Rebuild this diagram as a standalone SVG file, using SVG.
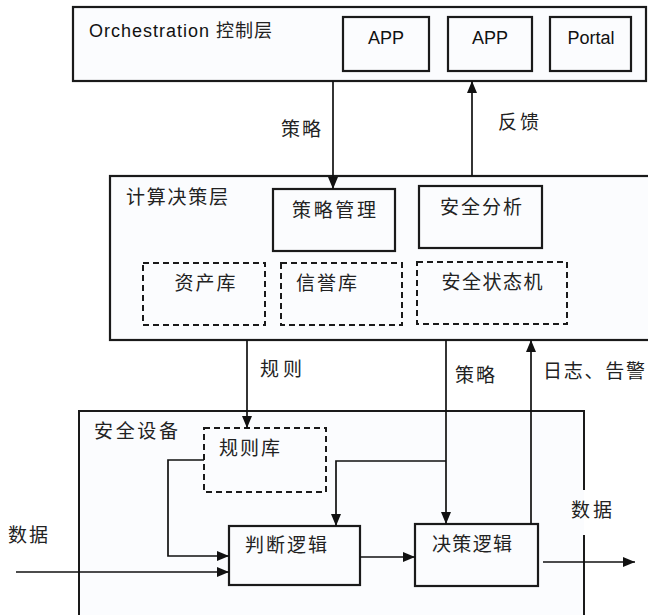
<svg xmlns="http://www.w3.org/2000/svg" width="648" height="615" viewBox="0 0 648 615">
<style>
  .box{fill:#fbfcfe;stroke:#1a1a1a;stroke-width:2.2}
  .dash{fill:#fbfcfe;stroke:#1a1a1a;stroke-width:2;stroke-dasharray:6,4}
  .cn{fill:none;stroke:#111;stroke-width:1.7}
  .t{font-family:"Noto Sans CJK SC","Noto Sans",sans-serif;font-size:19px;fill:#222}
  .l{font-family:"Liberation Sans","Noto Sans CJK SC",sans-serif;font-size:18px;fill:#111}
  .m{text-anchor:middle}
</style>
<defs>
  <marker id="ah" markerUnits="userSpaceOnUse" markerWidth="12" markerHeight="10" refX="12" refY="5" orient="auto">
    <path d="M0,0 L12,5 L0,10 z" fill="#111"/>
  </marker>
</defs>
<rect width="648" height="615" fill="#ffffff"/>

<g id="orchestration">
  <rect class="box" x="73" y="7" width="573" height="74"/>
  <text class="l" x="89" y="37" textLength="183">Orchestration <tspan class="t" style="font-size:18px">控制层</tspan></text>
</g>
<g id="app1">
  <rect class="box" x="343" y="17" width="86" height="54"/>
  <text class="l m" x="386" y="44">APP</text>
</g>
<g id="app2">
  <rect class="box" x="448" y="17" width="84" height="54"/>
  <text class="l m" x="490" y="44">APP</text>
</g>
<g id="portal">
  <rect class="box" x="550" y="17" width="81" height="54"/>
  <text class="l m" x="591" y="44">Portal</text>
</g>

<g id="compute-layer">
  <rect class="box" x="110" y="176" width="540" height="164"/>
  <text class="t" x="126" y="204" textLength="102">计算决策层</text>
</g>
<g id="policy-mgmt">
  <rect class="box" x="273" y="189" width="122" height="62"/>
  <text class="t m" x="334" y="217" textLength="84">策略管理</text>
</g>
<g id="security-analysis">
  <rect class="box" x="419" y="186" width="123" height="62"/>
  <text class="t m" x="481" y="214" textLength="82">安全分析</text>
</g>
<g id="asset-db">
  <rect class="dash" x="143" y="263" width="122" height="62"/>
  <text class="t m" x="205" y="290" textLength="61">资产库</text>
</g>
<g id="reputation-db">
  <rect class="dash" x="281" y="263" width="121" height="62"/>
  <text class="t" x="296" y="290" textLength="61">信誉库</text>
</g>
<g id="state-machine">
  <rect class="dash" x="417" y="262" width="150" height="62"/>
  <text class="t m" x="492" y="289" textLength="101">安全状态机</text>
</g>

<g id="security-device">
  <rect x="79" y="411" width="505" height="210" fill="#fbfcfe"/>
  <path d="M79,615 V411 H584 V490 M584,535 V615" fill="none" stroke="#1a1a1a" stroke-width="2"/>
  <text class="t" x="94" y="438" textLength="84">安全设备</text>
</g>
<g id="rule-db">
  <rect class="dash" x="204" y="428" width="122" height="64"/>
  <text class="t" x="219" y="455" textLength="61">规则库</text>
</g>
<g id="judge-logic">
  <rect class="box" x="229" y="526" width="131" height="59"/>
  <text class="t" x="245" y="552" textLength="82">判断逻辑</text>
</g>
<g id="decide-logic">
  <rect class="box" x="415" y="524" width="123" height="62"/>
  <text class="t" x="432" y="551" textLength="80">决策逻辑</text>
</g>

<g id="connectors">
  <path class="cn" d="M333,81 V189" marker-end="url(#ah)"/>
  <path class="cn" d="M472,176 V81" marker-end="url(#ah)"/>
  <path class="cn" d="M247,340 V428" marker-end="url(#ah)"/>
  <path class="cn" d="M446,340 V524" marker-end="url(#ah)"/>
  <path class="cn" d="M446,461 H336 V526" marker-end="url(#ah)"/>
  <path class="cn" d="M531,524 V340" marker-end="url(#ah)"/>
  <path class="cn" d="M204,460 H168 V556 H229" marker-end="url(#ah)"/>
  <path class="cn" d="M16,572 H229" marker-end="url(#ah)"/>
  <path class="cn" d="M360,557 H415" marker-end="url(#ah)"/>
  <path class="cn" d="M543,562 H635" marker-end="url(#ah)"/>
</g>

<g id="labels">
  <text class="t" x="281" y="136" textLength="40">策略</text>
  <text class="t" x="498" y="129" textLength="41">反馈</text>
  <text class="t" x="260" y="376" textLength="42">规则</text>
  <text class="t" x="455" y="382" textLength="40">策略</text>
  <text class="t" x="543" y="378" textLength="102">日志、告警</text>
  <text class="t" x="8" y="542" textLength="40">数据</text>
  <text class="t" x="571" y="517" textLength="41">数据</text>
</g>
</svg>
